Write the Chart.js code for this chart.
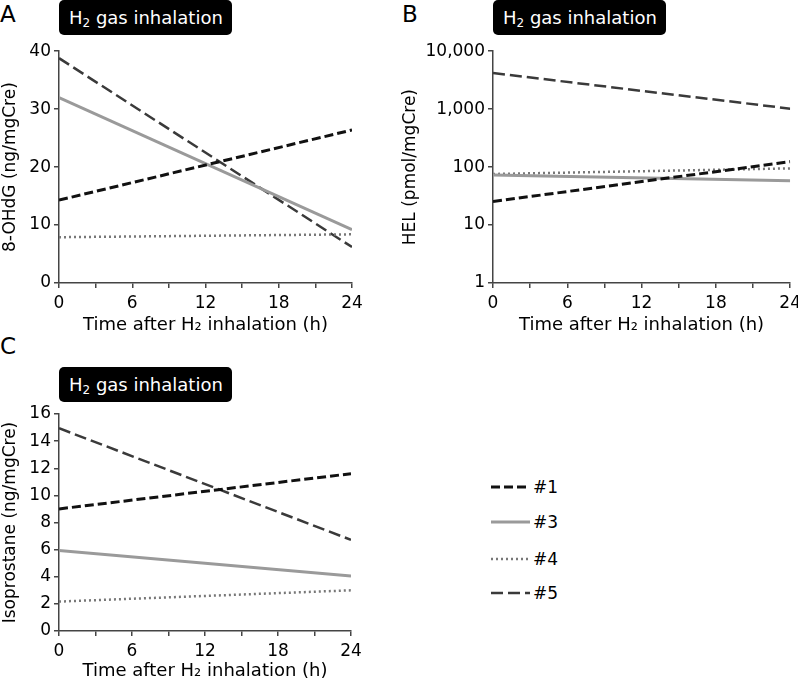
<!DOCTYPE html>
<html>
<head>
<meta charset="utf-8">
<script src="https://cdn.jsdelivr.net/npm/chart.js@4.4.1/dist/chart.umd.min.js"></script>
<style>
  body { margin: 0; background: #fff; font-family: "DejaVu Sans", Verdana, sans-serif; }
  #wrap { position: relative; width: 798px; height: 682px; overflow: hidden; }
  canvas { position: absolute; }
  .letter { position: absolute; font-size: 23px; color: #000; line-height: 1; }
  .badge { position: absolute; background: #000; color: #fff; border-radius: 5px; font-size: 18px;
           height: 35px; line-height: 35px; width: 173px; box-sizing: border-box; padding-left: 10px; white-space: nowrap; }
  .badge sub { font-size: 12px; vertical-align: -3px; line-height: 0; }
  .leg { position: absolute; left: 490px; font-size: 17px; color: #000; }
  .leg div { position: absolute; left: 0; height: 20px; width: 80px; }
  .leg svg { position: absolute; left: 0; top: 0; }
  .leg span { position: absolute; left: 43px; top: 0; line-height: 20px; }
</style>
</head>
<body>
<div id="wrap">
  <div class="letter" style="left:0;top:3px">A</div>
  <div class="badge" style="left:59px;top:0">H<sub>2</sub> gas inhalation</div>
  <div class="letter" style="left:402px;top:3px">B</div>
  <div class="badge" style="left:493px;top:0">H<sub>2</sub> gas inhalation</div>
  <div class="letter" style="left:0;top:335px">C</div>
  <div class="badge" style="left:59px;top:367px">H<sub>2</sub> gas inhalation</div>

  <canvas id="chartA" width="372" height="298" style="left:0;top:38px"></canvas>
  <canvas id="chartB" width="406" height="298" style="left:400px;top:38px"></canvas>
  <canvas id="chartC" width="372" height="282" style="left:0;top:400px"></canvas>

  <div class="leg" id="legend"></div>
</div>

<script>
// --- данные ---
const hours = [0, 24];
const seriesNames = ['#1', '#3', '#4', '#5'];

// A: 8-OHdG (ng/mgCre)
const ohdg1 = [14.3, 26.4];
const ohdg3 = [32.0, 9.2];
const ohdg4 = [7.9, 8.4];
const ohdg5 = [38.8, 6.2];

// B: HEL (pmol/mgCre), логарифмическая шкала
const hel1 = [25.5, 124];
const hel3 = [73, 58];
const hel4 = [76, 95];
const hel5 = [4200, 1020];

// C: Isoprostane (ng/mgCre)
const iso1 = [9.0, 11.6];
const iso3 = [5.93, 4.05];
const iso4 = [2.17, 3.0];
const iso5 = [14.95, 6.72];

const xTicks = [0, 3, 6, 9, 12, 15, 18, 21, 24];
const helTicks = [1, 10, 100, 1000, 10000];

// стили линий для серий
const lineStyles = [
    { color: '#111111', width: 3, dash: [9, 4] },   // #1
    { color: '#9a9a9a', width: 3, dash: [] },       // #3
    { color: '#777777', width: 2.5, dash: [2, 3] }, // #4
    { color: '#3a3a3a', width: 2.5, dash: [12, 5] } // #5
];

const AXIS_COLOR = '#444';
const FAMILY = '"DejaVu Sans", Verdana, sans-serif';
const TICK_FONT = { family: FAMILY, size: 17 };
const YTITLE_FONT = { family: FAMILY, size: 17 };
const XTITLE_FONT = { family: FAMILY, size: 18 };

function makeDatasets(list) {
    return list.map((values, i) => ({
        label: seriesNames[i],
        data: values.map((v, k) => ({ x: hours[k], y: v })),
        borderColor: lineStyles[i].color,
        borderWidth: lineStyles[i].width,
        borderDash: lineStyles[i].dash,
        borderCapStyle: 'butt',
        pointRadius: 0,
        fill: false,
        tension: 0
    }));
}

function xScale(axisHeight) {
    return {
        type: 'linear',
        min: 0,
        max: 24,
        afterBuildTicks: scale => { scale.ticks = xTicks.map(v => ({ value: v })); },
        ticks: {
            autoSkip: false,
            maxRotation: 0,
            color: '#000',
            font: TICK_FONT,
            padding: 5,
            callback: v => (v % 6 === 0 ? String(v) : '')
        },
        grid: { drawOnChartArea: false, drawTicks: true, tickLength: 5, color: AXIS_COLOR, lineWidth: 1.5 },
        border: { color: AXIS_COLOR, width: 1.5 },
        title: { display: true, text: 'Time after H\u2082 inhalation (h)', color: '#000', font: XTITLE_FONT, padding: { top: 2, bottom: 0 } },
        afterFit: scale => { scale.height = axisHeight; }
    };
}

function yScale(opts, axisWidth) {
    return Object.assign({
        ticks: Object.assign({ color: '#000', font: TICK_FONT, padding: 3 }, opts.ticks),
        grid: { drawOnChartArea: false, drawTicks: true, tickLength: 5, color: AXIS_COLOR, lineWidth: 1.5 },
        border: { color: AXIS_COLOR, width: 1.5 },
        title: { display: true, text: opts.title, color: '#000', font: YTITLE_FONT, padding: { top: 0, bottom: 2 } },
        afterFit: scale => { scale.width = axisWidth; }
    }, opts.extra);
}

function makeChart(id, datasets, y, axisWidth, axisHeight, padding) {
    return new Chart(document.getElementById(id), {
        type: 'line',
        data: { datasets: datasets },
        options: {
            responsive: false,
            animation: false,
            devicePixelRatio: 1,
            layout: { padding: padding },
            plugins: { legend: { display: false }, tooltip: { enabled: false } },
            scales: {
                x: xScale(axisHeight),
                y: yScale(y, axisWidth)
            }
        }
    });
}

// A
makeChart('chartA', makeDatasets([ohdg1, ohdg3, ohdg4, ohdg5]), {
    title: '8-OHdG (ng/mgCre)',
    ticks: { stepSize: 10 },
    extra: { type: 'linear', min: 0, max: 40 }
}, 59, 53, { top: 11, right: 20, left: 0, bottom: 0 });

// B
makeChart('chartB', makeDatasets([hel1, hel3, hel4, hel5]), {
    title: 'HEL (pmol/mgCre)',
    ticks: { callback: v => Number(v).toLocaleString('en-US') },
    extra: {
        type: 'logarithmic',
        min: 1,
        max: 10000,
        afterBuildTicks: scale => { scale.ticks = helTicks.map(v => ({ value: v, major: true })); }
    }
}, 93, 53, { top: 11, right: 0, left: 0, bottom: 0 });

// C
makeChart('chartC', makeDatasets([iso1, iso3, iso4, iso5]), {
    title: 'Isoprostane (ng/mgCre)',
    ticks: { stepSize: 2 },
    extra: { type: 'linear', min: 0, max: 16 }
}, 59, 51, { top: 14, right: 21, left: 0, bottom: 0 });

// легенда (HTML, образцы линий тем же стилем)
const legend = document.getElementById('legend');
const legendY = [477, 512, 549, 583];
seriesNames.forEach((name, i) => {
    const st = lineStyles[i];
    const row = document.createElement('div');
    row.style.top = legendY[i] + 'px';
    row.innerHTML = `<svg width="40" height="20"><line x1="1" y1="10" x2="40" y2="10" stroke="${st.color}"
        stroke-width="${st.width}" stroke-dasharray="${st.dash.join(' ')}"/></svg><span>${name}</span>`;
    legend.appendChild(row);
});
</script>
</body>
</html>
